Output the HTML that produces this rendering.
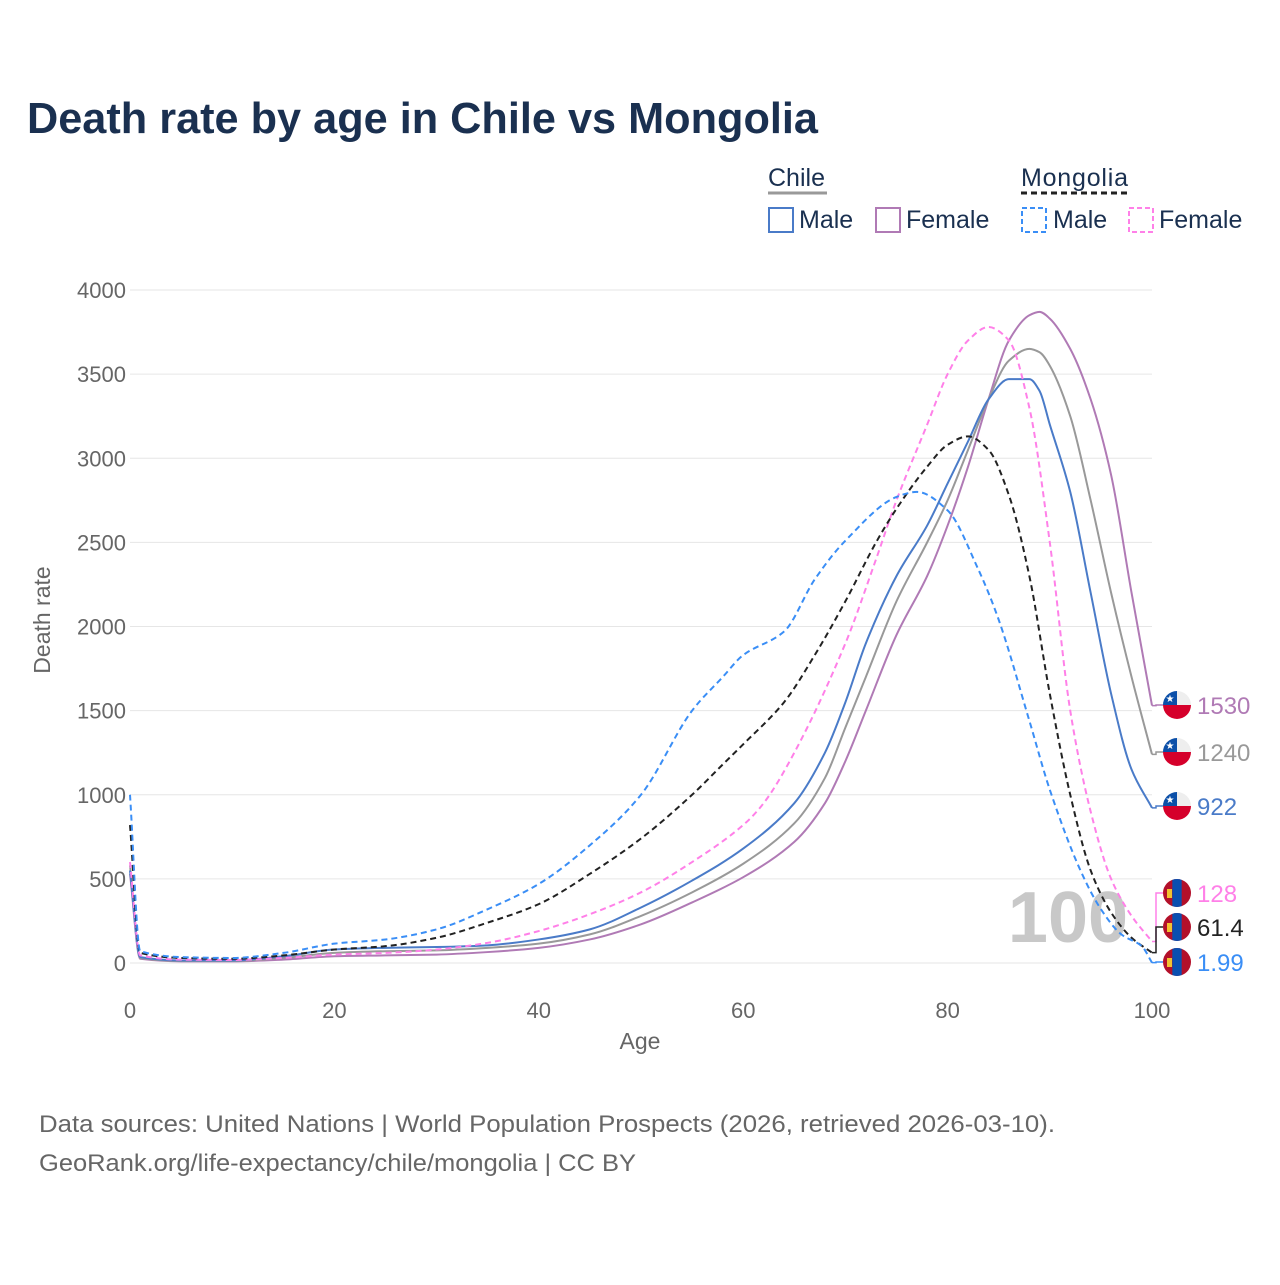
<!DOCTYPE html>
<html><head><meta charset="utf-8"><style>
body{margin:0;background:#fff;font-family:"Liberation Sans",sans-serif}
</style></head><body>
<svg id="c" width="1280" height="1280" xmlns="http://www.w3.org/2000/svg" style="font-family:'Liberation Sans',sans-serif">
<rect width="1280" height="1280" fill="#fff"/>
<text x="27" y="133" font-size="44" font-weight="bold" fill="#1a3050" textLength="791" lengthAdjust="spacingAndGlyphs">Death rate by age in Chile vs Mongolia</text>
<g font-size="25" fill="#1a3050">
<text x="768" y="186">Chile</text>
<line x1="768" y1="193" x2="827" y2="193" stroke="#999" stroke-width="3"/>
<text x="1021" y="186" textLength="107">Mongolia</text>
<line x1="1021" y1="193" x2="1128" y2="193" stroke="#222" stroke-width="3" stroke-dasharray="6,4"/>
<g><rect x="769" y="208" width="24" height="24" fill="none" stroke="#4a7bc8" stroke-width="2"/><text x="799" y="228">Male</text></g>
<g><rect x="876" y="208" width="24" height="24" fill="none" stroke="#b07ab5" stroke-width="2"/><text x="906" y="228">Female</text></g>
<g><rect x="1022" y="208" width="24" height="24" fill="none" stroke="#3a8ef6" stroke-width="2" stroke-dasharray="5,3"/><text x="1053" y="228">Male</text></g>
<g><rect x="1129" y="208" width="24" height="24" fill="none" stroke="#ff80e8" stroke-width="2" stroke-dasharray="5,3"/><text x="1159" y="228">Female</text></g>
</g>
<g id="axes"></g>
<text x="1068" y="942" font-size="72" font-weight="bold" fill="#c8c8c8" text-anchor="middle">100</text>
<g id="series"></g>
<g id="ends"></g>
<text x="640" y="1049" font-size="23" fill="#666" text-anchor="middle">Age</text>
<text transform="translate(50,620) rotate(-90)" font-size="23" fill="#666" text-anchor="middle">Death rate</text>
<text x="39" y="1132" font-size="24" fill="#666" textLength="1016" lengthAdjust="spacingAndGlyphs">Data sources: United Nations | World Population Prospects (2026, retrieved 2026-03-10).</text>
<text x="39" y="1171" font-size="24" fill="#666" textLength="597" lengthAdjust="spacingAndGlyphs">GeoRank.org/life-expectancy/chile/mongolia | CC BY</text>
</svg>
<script>
const yTicks=[0,500,1000,1500,2000,2500,3000,3500,4000];
const xTicks=[0,20,40,60,80,100];
const mnAges=[0,1,5,10,15,20,25,30,35,40,45,50,55,58,60,64,67,70,75,77,80,83,85,88,90,93,95,97,99,100];
const mnMale=[1000,70,35,30,60,115,140,200,320,470,700,1000,1500,1700,1830,1970,2280,2510,2770,2800,2690,2340,2040,1440,1030,550,320,170,100,1.99];
const mnTotAges=[0,1,5,10,15,20,25,30,35,40,45,50,55,58,60,64,67,70,73,75,78,80,82,84,86,88,90,92,94,96,98,100];
const mnTotal=[820,60,30,25,45,80,100,150,240,350,530,740,1000,1180,1300,1550,1830,2150,2500,2700,2950,3080,3130,3050,2780,2300,1600,1000,550,300,150,61.4];
const mnFemAges=[0,1,5,10,15,20,25,30,35,40,45,50,55,60,62,65,70,73,75,78,80,82,84,86,88,90,92,94,96,98,100];
const mnFemale=[600,45,20,18,30,50,60,80,120,190,290,420,600,820,950,1250,1900,2400,2750,3200,3500,3700,3780,3700,3300,2500,1500,900,500,280,128];
const clAges=[0,1,5,10,15,20,25,30,35,40,45,50,55,60,65,68,70,72,75,78,80,82,84,86,88,89,90,92,94,96,98,100];
const clMale=[550,35,15,15,40,80,90,95,105,140,200,330,490,680,950,1250,1550,1900,2300,2600,2850,3100,3350,3470,3470,3400,3200,2800,2200,1600,1150,922];
const clTotal=[580,30,12,12,30,60,70,75,90,115,170,280,420,590,830,1100,1400,1700,2150,2500,2750,3050,3350,3580,3650,3630,3550,3250,2750,2200,1700,1240];
const clFemale=[530,25,10,10,20,40,45,50,65,90,140,230,360,510,720,950,1200,1500,1950,2300,2600,2950,3350,3700,3850,3870,3830,3650,3350,2900,2200,1530];
const NS='http://www.w3.org/2000/svg';
const X=a=>130+a*10.22, Y=v=>963-v*673/4000;
function mk(t,at,p){const e=document.createElementNS(NS,t);for(const k in at)e.setAttribute(k,at[k]);p.appendChild(e);return e;}
const ax=document.getElementById('axes');
yTicks.forEach(v=>{const l=mk('line',{x1:130,x2:1152,y1:Y(v),y2:Y(v),stroke:'#e6e6e6','stroke-width':1},ax);


const t=mk('text',{x:126,y:Y(v)+8,'font-size':22,fill:'#666','text-anchor':'end'},ax);t.textContent=v;

});
xTicks.forEach(a=>{const t=mk('text',{x:X(a),y:1018,'font-size':22,fill:'#666','text-anchor':'middle'},ax);t.textContent=a;

});
function mono(pts){const n=pts.length,d=[],m=[];
for(let i=0;i<n-1;i++)d.push((pts[i+1][1]-pts[i][1])/(pts[i+1][0]-pts[i][0]));
for(let i=0;i<n;i++){if(i===0)m.push(d[0]);else if(i===n-1)m.push(d[n-2]);else m.push(d[i-1]*d[i]<=0?0:2/(1/d[i-1]+1/d[i]));}
let s='M'+pts[0][0]+','+pts[0][1];
for(let i=0;i<n-1;i++){const h=(pts[i+1][0]-pts[i][0])/3;
s+=` C${pts[i][0]+h},${pts[i][1]+m[i]*h} ${pts[i+1][0]-h},${pts[i+1][1]-m[i+1]*h} ${pts[i+1][0]},${pts[i+1][1]}`;}return s;}
const sg=document.getElementById('series'),eg=document.getElementById('ends');
const series=[
['chile-female',clAges,clFemale,'#b07ab5','',705,'chile'],
['chile-total',clAges,clTotal,'#999','',752,'chile'],
['chile-male',clAges,clMale,'#4a7bc8','',806,'chile'],
['mongolia-female',mnFemAges,mnFemale,'#ff80e8','6,4',893,'mn'],
['mongolia-total',mnTotAges,mnTotal,'#222','6,4',927,'mn'],
['mongolia-male',mnAges,mnMale,'#3a8ef6','6,4',962,'mn']];
series.forEach(s=>{const [nm,ag,vals,col,da,fy,fl]=s;
const pts=ag.map((a,i)=>[X(a),Y(vals[i])]);
const p=mk('path',{d:mono(pts),fill:'none',stroke:col,'stroke-width':2,'stroke-dasharray':da},sg);


const ex=X(100),ey=Y(vals[vals.length-1]);
const c=mk('path',{d:`M${ex},${ey} L1156,${ey} L1156,${fy} L1163,${fy}`,fill:'none',stroke:col,'stroke-width':1.5},eg);


const g=mk('g',{},eg);


const cx=1177,r=14;
const cp=mk('clipPath',{id:'cp'+nm},g);mk('circle',{cx:cx,cy:fy,r:r},cp);
const gg=mk('g',{'clip-path':`url(#cp${nm})`},g);
if(fl==='chile'){mk('rect',{x:cx-r,y:fy-r,width:2*r,height:r,fill:'#eee'},gg);mk('rect',{x:cx-r,y:fy,width:2*r,height:r,fill:'#d5002b'},gg);mk('rect',{x:cx-r,y:fy-r,width:r,height:r,fill:'#0b4fa8'},gg);
const st=mk('text',{x:cx-r/2,y:fy-3,'font-size':10,fill:'#fff','text-anchor':'middle'},gg);st.textContent='★';}
else{mk('rect',{x:cx-r,y:fy-r,width:2*r,height:2*r,fill:'#b3102a'},gg);mk('rect',{x:cx-r/3,y:fy-r,width:2*r/3,height:2*r,fill:'#0a4fb0'},gg);mk('rect',{x:cx-10,y:fy-4,width:5,height:9,fill:'#f2c230'},gg);}
const t=mk('text',{x:1197,y:fy+9,'font-size':24,fill:col},eg);t.textContent=String(vals[vals.length-1]);

});
</script>
</body></html>
